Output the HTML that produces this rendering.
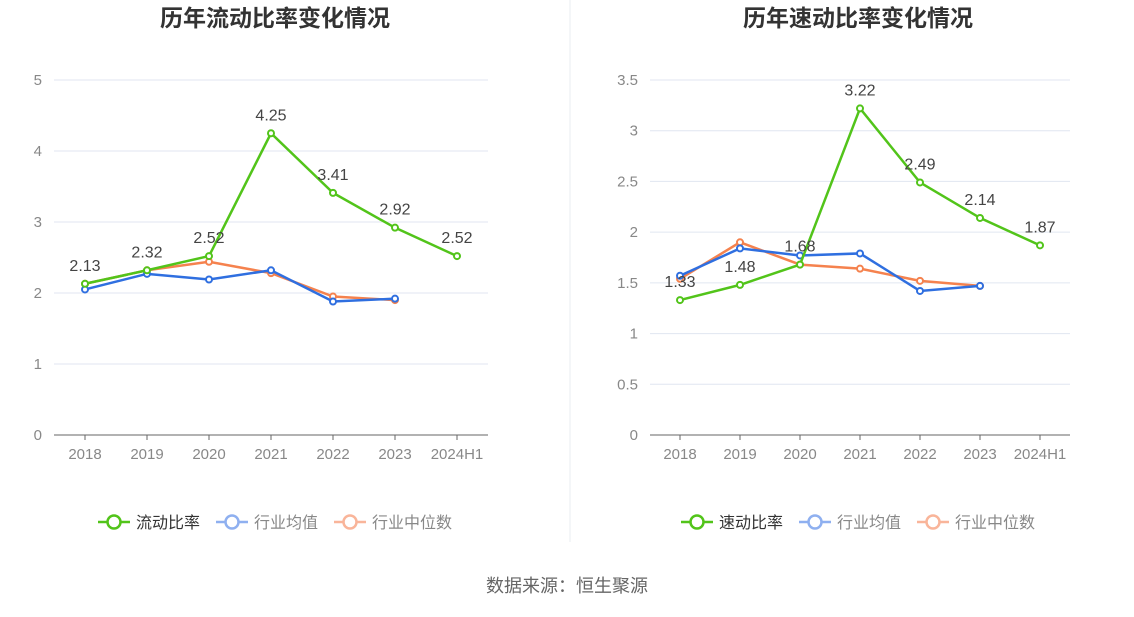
<!DOCTYPE html>
<html><head><meta charset="utf-8"><style>
body{margin:0;background:#fff;width:1134px;height:612px;overflow:hidden;font-family:"Liberation Sans","Noto Sans CJK SC",sans-serif}
</style></head><body>
<svg id="s" width="1134" height="612" xmlns="http://www.w3.org/2000/svg">
<line x1="570" y1="0" x2="570" y2="542" stroke="#e8ecf2"/>
<text x="567" y="592" text-anchor="middle" font-size="18" fill="#666">数据来源：恒生聚源</text>
</svg>
<script>
const years=["2018","2019","2020","2021","2022","2023","2024H1"];
const currentRatio=[2.13,2.32,2.52,4.25,3.41,2.92,2.52];
const currentAvg=[2.05,2.27,2.19,2.32,1.88,1.92];
const currentMedian=[2.13,2.32,2.44,2.28,1.95,1.90];
const leftTicks=[0,1,2,3,4,5];
const quickRatio=[1.33,1.48,1.68,3.22,2.49,2.14,1.87];
const quickAvg=[1.57,1.84,1.77,1.79,1.42,1.47];
const quickMedian=[1.54,1.90,1.68,1.64,1.52,1.47];
const rightTicks=[0,0.5,1,1.5,2,2.5,3,3.5];
const NS="http://www.w3.org/2000/svg";
const svg=document.getElementById('s');
function mk(t,a,txt){const e=document.createElementNS(NS,t);for(const k in a)e.setAttribute(k,a[k]);if(txt!==undefined)e.textContent=txt;svg.appendChild(e);return e;}
function panel(o){
  const {x0,x1,title,cx,ticks,max,main,avg,med,mainName,pre}=o;
  const yT=80,yB=435;
  const sy=v=>yB-(v/max)*(yB-yT);
  const step=(x1-x0)/years.length;
  const sx=i=>x0+step*(i+0.5);
  let t=mk('text',{x:cx,y:26,'text-anchor':'middle','font-size':23,'font-weight':'bold',fill:'#333'},title);
  
  
  ticks.forEach(v=>{
    const g=mk('line',{x1:x0,x2:x1,y1:sy(v),y2:sy(v),stroke:v===0?'#666':'#e0e6f1'});
    
    
    const l=mk('text',{x:x0-12,y:sy(v)+5,'text-anchor':'end','font-size':15,fill:'#888'},String(v));
    
    
  });
  years.forEach((y,i)=>{
    const tk=mk('line',{x1:sx(i),x2:sx(i),y1:yB,y2:yB+5,stroke:'#666'});
    
    
    const l=mk('text',{x:sx(i),y:yB+24,'text-anchor':'middle','font-size':15,fill:'#888'},y);
    
    
  });
  function series(d,c,name,labels){
    const p=mk('polyline',{points:d.map((v,i)=>sx(i)+','+sy(v)).join(' '),fill:'none',stroke:c,'stroke-width':2.5});
    
    
    d.forEach((v,i)=>{
      const m=mk('circle',{cx:sx(i),cy:sy(v),r:3,fill:'#fff',stroke:c,'stroke-width':2});
      
      
      if(labels){
        const l=mk('text',{x:sx(i),y:sy(v)-13,'text-anchor':'middle','font-size':16,fill:'#444'},v.toFixed(2));
        
        
      }
    });
  }
  series(med,'#f5824e',pre+'-median',false);
  series(avg,'#2f6fe0',pre+'-average',false);
  series(main,'#52c41a',pre+'-main',true);
  const lg=[[mainName,'#52c41a','#333'],['行业均值','#8fb0f0','#888'],['行业中位数','#f9b59a','#888']];
  let lx=cx-177;const ws=[118,118,120];
  lg.forEach((e,i)=>{
    const g=mk('line',{x1:lx,x2:lx+32,y1:522,y2:522,stroke:e[1],'stroke-width':2.5});
    
    
    const c=mk('circle',{cx:lx+16,cy:522,r:6.5,fill:'#fff',stroke:e[1],'stroke-width':2.5});
    
    
    const tx=mk('text',{x:lx+38,y:528,'font-size':16,fill:e[2]},e[0]);
    
    
    lx+=ws[i];
  });
}
panel({x0:54,x1:488,title:'历年流动比率变化情况',cx:275,ticks:leftTicks,max:5,main:currentRatio,avg:currentAvg,med:currentMedian,mainName:'流动比率',pre:'current-ratio'});
panel({x0:650,x1:1070,title:'历年速动比率变化情况',cx:858,ticks:rightTicks,max:3.5,main:quickRatio,avg:quickAvg,med:quickMedian,mainName:'速动比率',pre:'quick-ratio'});
</script>
</body></html>
